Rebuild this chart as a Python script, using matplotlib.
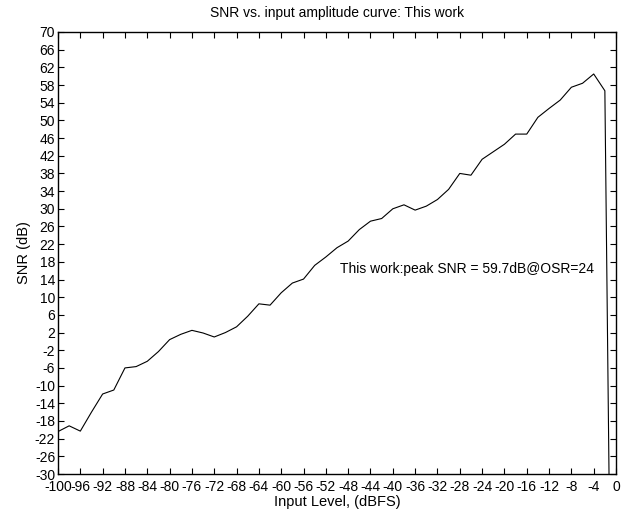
import matplotlib
matplotlib.use("Agg")
import matplotlib.pyplot as plt
import numpy as np

input_level = [-100, -98, -96, -94, -92, -90, -88, -86, -84, -82, -80, -78, -76, -74, -72, -70,
               -68, -66, -64, -62, -60, -58, -56, -54, -52, -50, -48, -46, -44, -42, -40, -38,
               -36, -34, -32, -30, -28, -26, -24, -22, -20, -18, -16, -14, -12, -10, -8, -6,
               -4, -2, -1]
snr = [-20.4, -19.1, -20.3, -16.0, -11.9, -11.0, -6.0, -5.7, -4.5, -2.3, 0.4, 1.6, 2.5, 1.9, 1.0, 2.0,
       3.3, 5.7, 8.5, 8.2, 11.0, 13.2, 14.1, 17.2, 19.1, 21.2, 22.7, 25.3, 27.2, 27.8, 30.0, 30.9,
       29.7, 30.6, 32.1, 34.4, 38.0, 37.6, 41.2, 42.9, 44.6, 46.9, 46.9, 50.7, 52.7, 54.6, 57.5, 58.4,
       60.5, 56.7, -60.0]

xticks = list(range(-100, 1, 4))
yticks = list(range(-30, 71, 4))

plt.rcParams['font.family'] = ['Liberation Sans', 'DejaVu Sans']
plt.rcParams['axes.unicode_minus'] = False

fig = plt.figure(figsize=(6.27, 5.11), dpi=100)
ax = fig.add_axes([0.0925, 0.0724, 0.89, 0.865])
ax.plot(input_level, snr, color='black', linewidth=0.8)
ax.set_xlim(-100, 0)
ax.set_ylim(-30, 70)
ax.set_xticks(xticks)
ax.set_yticks(yticks)
ax.set_xticklabels([str(t) for t in xticks])
ax.set_yticklabels([str(t) for t in yticks])
ax.tick_params(direction='in', top=True, right=True, labelsize=10, length=4)
ax.tick_params(axis='x', pad=4)
ax.tick_params(axis='y', pad=2)
for s in ax.spines.values():
    s.set_linewidth(1.0)
ax.set_title('SNR vs. input amplitude curve: This work', fontsize=10, pad=11)
ax.set_xlabel('Input Level, (dBFS)', fontsize=10.5, labelpad=1)
ax.set_ylabel('SNR (dB)', fontsize=10.5, labelpad=3)
ax.text(-49.5, 16.3, 'This work:peak SNR = 59.7dB@OSR=24', fontsize=10, va='center', ha='left')
fig.savefig('out.png', dpi=100)
